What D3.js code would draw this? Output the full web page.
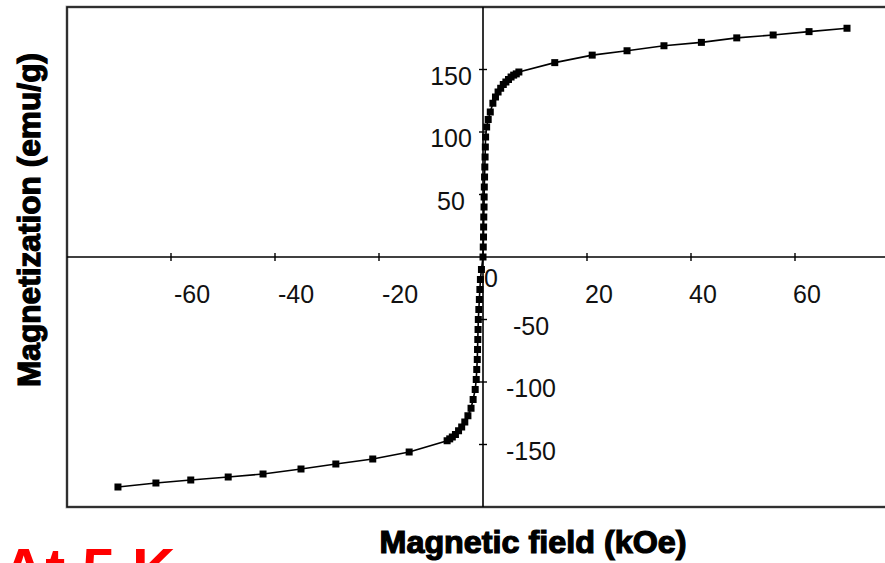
<!DOCTYPE html>
<html>
<head>
<meta charset="utf-8">
<script src="https://cdn.jsdelivr.net/npm/d3@7"></script>
<style>
  html, body { margin: 0; padding: 0; background: #fff; overflow: hidden; }
  svg { display: block; }
</style>
</head>
<body>
<div id="chart"></div>
<script>
// field (kOe) and magnetization (emu/g), in drawing order
const fieldKOe = [
    -70.2, -62.9, -56.2, -49, -42.3, -35, -28.3, -21.2, -14.2,
    -6.9, -6.4, -5.9, -5.3, -4.7, -4.1, -3.5, -2.9, -2.3, -1.9, -1.5,
    -1.3, -1.2, -1.1, -1.05, -1.0, -0.95, -0.9, -0.8, -0.7, -0.6, -0.5, -0.3,
    0,
    0.05, 0.1, 0.12, 0.15, 0.2, 0.22, 0.25, 0.3, 0.35, 0.4, 0.45, 0.5, 0.7,
    1.0, 1.4, 1.9, 2.4, 2.9, 3.4, 3.9, 4.4, 4.9, 5.4, 5.9, 6.4, 6.9,
    13.8, 21, 27.7, 34.8, 42, 48.8, 55.8, 62.7, 70
];
const magnetization = [
    -184, -180.8, -178.4, -176, -173.6, -169.6, -165.6, -161.6, -156,
    -147, -145.5, -144, -142, -139, -136, -132, -127, -121, -114, -106,
    -98, -90, -82, -74, -66, -58, -50, -42, -34, -26, -18, -10,
    0,
    8, 16, 24, 32, 40, 48, 56, 64, 72, 80, 88, 96, 104,
    110, 116, 123, 128, 132, 135, 138, 140, 142, 144, 145.5, 146.5, 148,
    155.5, 161.5, 165, 169, 171.7, 175.3, 177.6, 180.3, 183
];
const xTicks = [-60, -40, -20, 20, 40, 60, 80];
const xTickLabels = [-60, -40, -20, 0, 20, 40, 60];
const yTicks = [-150, -100, -50, 50, 100, 150];
const yTickLabels = [150, 100, 50, -50, -100, -150];

const xTitle = "Magnetic field (kOe)";
const yTitle = "Magnetization (emu/g)";
const noteText = "At 5 K";

function renderChart() {
    const width = 885, height = 563;
    const plot = { left: 67, right: 899, top: 7, bottom: 507 };

    const x = d3.scaleLinear().domain([-80, 80]).range([plot.left, plot.right]);
    const y = d3.scaleLinear().domain([-200, 200]).range([plot.bottom, plot.top]);

    const svg = d3.select("#chart")
        .append("svg")
        .attr("width", width)
        .attr("height", height)
        .style("font-family", "'Liberation Sans', Arial, sans-serif");

    svg.append("rect")
        .attr("width", width)
        .attr("height", height)
        .attr("fill", "#fff");

    // plot frame
    svg.append("rect")
        .attr("x", plot.left)
        .attr("y", plot.top)
        .attr("width", plot.right - plot.left)
        .attr("height", plot.bottom - plot.top)
        .attr("fill", "none")
        .attr("stroke", "#b0b0b0")
        .attr("stroke-width", 3);
    svg.append("rect")
        .attr("x", plot.left)
        .attr("y", plot.top)
        .attr("width", plot.right - plot.left)
        .attr("height", plot.bottom - plot.top)
        .attr("fill", "none")
        .attr("stroke", "#111")
        .attr("stroke-width", 1.6);

    // axes crossing at the origin
    svg.append("line")
        .attr("x1", plot.left).attr("x2", plot.right)
        .attr("y1", y(0)).attr("y2", y(0))
        .attr("stroke", "#000").attr("stroke-width", 1.6);
    svg.append("line")
        .attr("x1", x(0)).attr("x2", x(0))
        .attr("y1", plot.top).attr("y2", plot.bottom)
        .attr("stroke", "#000").attr("stroke-width", 1.6);

    // cross tick marks
    svg.selectAll(".xtick")
        .data(xTicks)
        .enter().append("line")
        .attr("class", "xtick")
        .attr("x1", d => x(d)).attr("x2", d => x(d))
        .attr("y1", y(0) - 4).attr("y2", y(0) + 4)
        .attr("stroke", "#000").attr("stroke-width", 1.4);
    svg.selectAll(".ytick")
        .data(yTicks)
        .enter().append("line")
        .attr("class", "ytick")
        .attr("x1", x(0) - 4).attr("x2", x(0) + 4)
        .attr("y1", d => y(d)).attr("y2", d => y(d))
        .attr("stroke", "#000").attr("stroke-width", 1.4);

    // tick labels
    svg.selectAll(".xlabel")
        .data(xTickLabels)
        .enter().append("text")
        .attr("class", "xlabel")
        .attr("x", d => x(d) + (d === 0 ? 8 : d < 0 ? 21 : 12))
        .attr("y", d => d === 0 ? y(0) + 30 : y(0) + 46)
        .attr("text-anchor", "middle")
        .attr("font-size", 25)
        .attr("fill", "#111")
        .text(d => d);

    svg.selectAll(".ylabel")
        .data(yTickLabels)
        .enter().append("text")
        .attr("class", "ylabel")
        .attr("x", d => d > 0 ? x(0) - 32 : x(0) + 48)
        .attr("y", d => y(d) + 15)
        .attr("text-anchor", "middle")
        .attr("font-size", 25)
        .attr("fill", "#111")
        .text(d => d);

    // curve and markers
    const points = fieldKOe.map((h, i) => ({ h: h, m: magnetization[i] }));

    const line = d3.line()
        .x(d => x(d.h))
        .y(d => y(d.m));

    svg.append("path")
        .datum(points)
        .attr("d", line)
        .attr("fill", "none")
        .attr("stroke", "#000")
        .attr("stroke-width", 1.6);

    const size = 7;
    svg.selectAll(".marker")
        .data(points)
        .enter().append("rect")
        .attr("class", "marker")
        .attr("x", d => x(d.h) - size / 2)
        .attr("y", d => y(d.m) - size / 2)
        .attr("width", size)
        .attr("height", size)
        .attr("fill", "#000");

    // axis titles
    svg.append("text")
        .attr("x", 533)
        .attr("y", 553)
        .attr("text-anchor", "middle")
        .attr("font-size", 31)
        .attr("font-weight", "bold")
        .attr("stroke", "#000")
        .attr("stroke-width", 1.2)
        .attr("textLength", 307)
        .attr("lengthAdjust", "spacingAndGlyphs")
        .text(xTitle);

    svg.append("text")
        .attr("transform", "translate(40,220) rotate(-90)")
        .attr("text-anchor", "middle")
        .attr("font-size", 31)
        .attr("font-weight", "bold")
        .attr("stroke", "#000")
        .attr("stroke-width", 1.2)
        .attr("textLength", 334)
        .attr("lengthAdjust", "spacingAndGlyphs")
        .text(yTitle);

    // temperature note, cut off by the bottom edge as in the source
    svg.append("text")
        .attr("x", 2)
        .attr("y", 590)
        .attr("font-size", 60)
        .attr("font-weight", "bold")
        .attr("fill", "#ff0000")
        .text(noteText);
}

window.addEventListener("load", renderChart);
</script>
</body>
</html>
